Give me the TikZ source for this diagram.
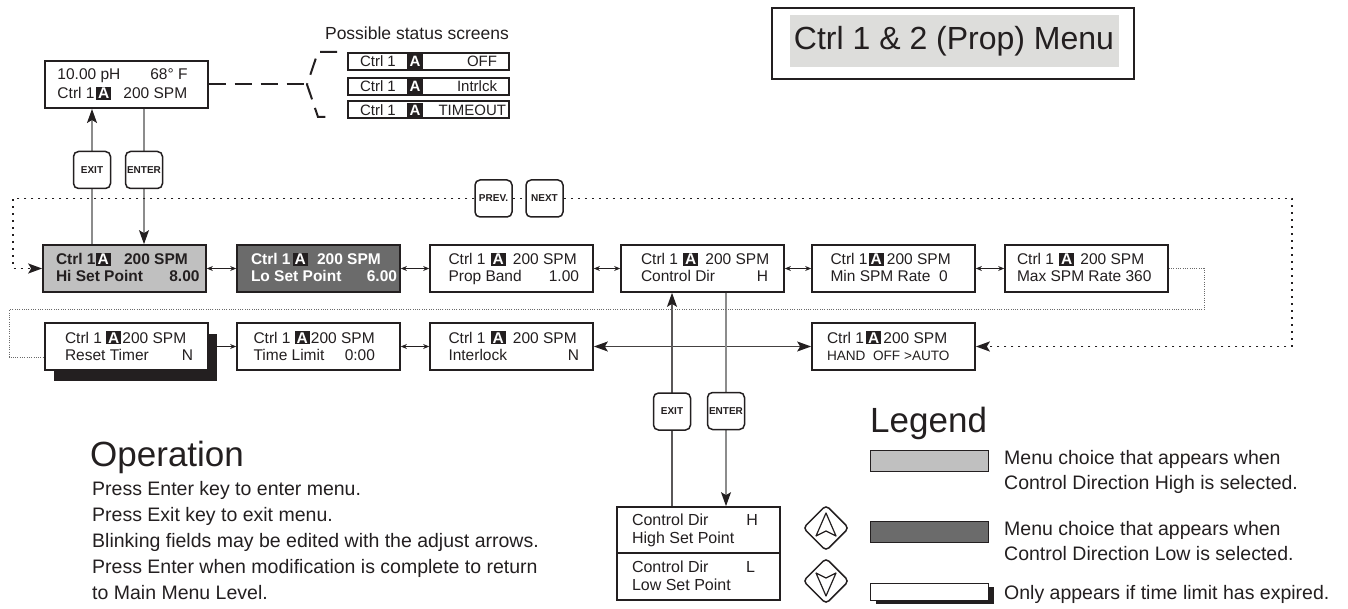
\documentclass[tikz,border=0pt]{standalone}
\usepackage{fontspec}
\setmainfont{Liberation Sans}
\usetikzlibrary{arrows.meta,calc,shapes.geometric,shadows}
\definecolor{ink}{HTML}{231F20}
\definecolor{lgray}{HTML}{C0C0C0}
\definecolor{dgray}{HTML}{6B6B6B}
\definecolor{tgray}{HTML}{DDDDDB}
\definecolor{wire}{HTML}{8C8C8C}
\definecolor{fine}{HTML}{6A6A6A}
\newcommand\ab{{\setlength{\fboxsep}{1.2pt}\colorbox{ink}{\makebox[13pt]{\color{white}\bfseries A}}}}
\newcommand\abig{{\setlength{\fboxsep}{2pt}\colorbox{ink}{\makebox[12pt]{\color{white}\bfseries A}}}}
\def\btskip{17pt}
\def\btw{163pt}
\newcommand\btstrut{\rule[-3pt]{0pt}{16pt}}
\newcommand\bt[3]{\vbox{\baselineskip=\btskip\relax\lineskiplimit=-50pt\relax
  \hbox to \btw{\kern#1\relax\btstrut#2\hfil}%
  \hbox to \btw{\kern#1\relax\btstrut#3\hfil}}}
\begin{document}
\begin{tikzpicture}[x=1pt,y=-1pt,
 mbox/.style={draw=ink,line width=1.7pt,fill=white,inner sep=0pt,minimum width=163pt,minimum height=47pt,text=ink,font=\fontsize{15.5}{17}\selectfont},
 hibox/.style={mbox,fill=lgray,font=\fontsize{15.5}{17}\selectfont\bfseries},
 lobox/.style={mbox,fill=dgray,text=white,font=\fontsize{15.5}{17}\selectfont\bfseries},
 shbox/.style={mbox,drop shadow={shadow xshift=9pt,shadow yshift=-11pt,opacity=1,fill=ink}},
 subbox/.style={mbox,font=\fontsize{16}{18}\selectfont},
 scr/.style={draw=ink,line width=2pt,fill=white,inner sep=0pt,minimum width=161pt,minimum height=17pt,text=ink,font=\fontsize{15}{15}\selectfont},
 keybtn/.style={draw=ink,line width=1.5pt,fill=white,rounded corners=5pt,minimum width=37pt,minimum height=37pt,inner sep=0pt,text=ink,font=\fontsize{10}{10}\selectfont\bfseries},
 wireline/.style={draw=wire,line width=1.3pt,-{Stealth[length=14pt,width=10pt,inset=3pt,color=ink]}},
 hline/.style={draw=ink!85,line width=1.3pt,{Stealth[length=14pt,width=10pt,inset=3pt,color=ink]}-{Stealth[length=14pt,width=10pt,inset=3pt,color=ink]}},
 dbl/.style={draw=ink,line width=1pt,{Stealth[length=6pt,width=5pt]}-{Stealth[length=6pt,width=5pt]}},
 heavydot/.style={draw=ink,line width=1.8pt,dash pattern=on 1.8pt off 5.2pt},
 dottip/.style={-{Stealth[length=14pt,width=10pt,inset=3pt]}},
 finedot/.style={draw=fine,line width=1pt,dash pattern=on 1pt off 1.3pt},
 dashline/.style={draw=ink,line width=2pt,dash pattern=on 17pt off 9pt},
 bodytext/.style={inner sep=0pt,text=ink,font=\fontsize{19.5}{22}\selectfont,anchor=base west},
 heading/.style={inner sep=0pt,text=ink,font=\fontsize{35}{35}\selectfont,anchor=base west},
 lgrect/.style={draw=ink,line width=1pt,minimum width=118pt,minimum height=21pt,inner sep=0pt},
 adj/.style={draw=ink,line width=1.5pt,diamond,aspect=1,minimum width=46pt,minimum height=46pt,inner sep=0pt,rounded corners=4pt}
]
\useasboundingbox (0,0) rectangle (1348,609);

% title
\node[draw=ink,line width=1.5pt,minimum width=362pt,minimum height=71pt,inner sep=0pt] (ttl) at (953,43.5) {};
\node[fill=tgray,minimum width=329pt,minimum height=52pt,inner sep=0pt,font=\fontsize{32}{32}\selectfont,text=ink] (ttltxt) at (954,41) {Ctrl 1 \& 2 (Prop) Menu};

% status display
\node[mbox,line width=2pt,minimum width=162pt] (st) at (126,84.5) {\def\btskip{19pt}\bt{13pt}{10.00 pH\hfill 68° F\kern20pt}{Ctrl 1\hspace{1.5pt}\ab\hspace{12pt}200 SPM}};
\node[inner sep=0pt,text=ink,font=\fontsize{17.5}{18}\selectfont] (sslab) at (417,33) {Possible status screens};
\node[scr] (ss1) at (428.5,61.5) {\hbox to 161pt{\kern12pt\hbox to 47pt{Ctrl 1\hfil}\abig\hfil OFF\kern12pt}};
\node[scr] (ss2) at (428.5,86.5) {\hbox to 161pt{\kern12pt\hbox to 47pt{Ctrl 1\hfil}\abig\hfil Intrlck\kern12pt}};
\node[scr] (ss3) at (428.5,110) {\hbox to 161pt{\kern12pt\hbox to 47pt{Ctrl 1\hfil}\abig\hfil TIMEOUT\kern3pt}};
\coordinate (bm) at (307,84.5);
\coordinate (bt1) at (337,52);
\coordinate (bt2) at (318,52);
\coordinate (bb2) at (318,117);
\coordinate (bb1) at (334,117);
\draw[dashline] (st.east) -- (bm);
\draw[dashline] (bt1) -- (bt2) -- (bm) -- (bb2) -- (bb1);

% row 1
\node[hibox] (b1) at (124.5,268.5) {\bt{13pt}{Ctrl 1\ab\hspace{13pt}200 SPM}{Hi Set Point\hfill 8.00\kern6.5pt}};
\node[lobox] (b2) at (318.5,268.5) {\bt{14pt}{Ctrl 1\hspace{2pt}\ab\hspace{9pt}200 SPM}{Lo Set Point\hfill 6.00\kern3pt}};
\node[mbox] (b3) at (511.5,268.5) {\bt{18.5pt}{Ctrl 1\hspace{5pt}\ab\hspace{7pt}200 SPM}{Prop Band\hfill 1.00\kern14pt}};
\node[mbox] (b4) at (702.5,268.5) {\bt{20pt}{Ctrl 1\hspace{5pt}\ab\hspace{7pt}200 SPM}{Control Dir\hfill H\kern16pt}};
\node[mbox] (b5) at (893.5,268.5) {\bt{18.5pt}{Ctrl 1\hspace{1pt}\ab\hspace{3pt}200 SPM}{Min SPM Rate\ \ 0}};
\node[mbox] (b6) at (1086.5,268.5) {\bt{12pt}{Ctrl 1\hspace{5pt}\ab\hspace{6pt}200 SPM}{Max SPM Rate 360}};
\draw[dbl] (b1.east) -- (b2.west);
\draw[dbl] (b2.east) -- (b3.west);
\draw[dbl] (b3.east) -- (b4.west);
\draw[dbl] (b4.east) -- (b5.west);
\draw[dbl] (b5.east) -- (b6.west);

% row 2
\node[shbox] (r1) at (126.5,346.5) {\bt{20pt}{Ctrl 1\hspace{4pt}\ab\hspace{1pt}200 SPM}{Reset Timer\hfill N\kern15pt}};
\node[mbox] (r2) at (318.5,346.5) {\bt{16.5pt}{Ctrl 1\hspace{4pt}\ab\hspace{1pt}200 SPM}{Time Limit\hfill 0:00\kern25pt}};
\node[mbox] (r3) at (511.5,346.5) {\bt{18.5pt}{Ctrl 1\hspace{5pt}\ab\hspace{7pt}200 SPM}{Interlock\hfill N\kern14pt}};
\node[mbox] (r4) at (893.5,346.5) {\bt{15pt}{Ctrl 1\hspace{2pt}\ab\hspace{2pt}200 SPM}{{\fontsize{13.6}{14}\selectfont HAND\ \ OFF >AUTO}}};
\draw[dbl] (r1.east) -- (r2.west);
\draw[dbl] (r2.east) -- (r3.west);
\draw[hline] (r3.east) -- (r4.west);

% control dir sub menu
\node[subbox,minimum height=46pt] (sub1) at (698.5,530) {\def\btskip{18pt}\bt{15pt}{Control Dir\hfill H\kern22pt}{High Set Point}};
\node[subbox] (sub2) at (698.5,576.5) {\def\btskip{18pt}\bt{15pt}{Control Dir\hfill L\kern25pt}{Low Set Point}};

% enter / exit wires
\coordinate (xa) at (92,0);
\coordinate (xb) at (144,0);
\coordinate (xc) at (672,0);
\coordinate (xd) at (726,0);
\draw[wireline] (b1.north -| xa) -- (st.south -| xa);
\draw[wireline] (st.south -| xb) -- (b1.north -| xb);
\draw[wireline,draw=ink!75] (sub1.north -| xc) -- (b4.south -| xc);
\draw[wireline] (b4.south -| xd) -- (sub1.north -| xd);

% keys
\node[keybtn] (ext) at (92,170) {EXIT};
\node[keybtn] (ent) at (144,170) {ENTER};
\node[keybtn] (prv) at (493.5,198.5) {PREV.};
\node[keybtn] (nxt) at (544.5,198.5) {NEXT};
\node[keybtn] (exb) at (672,411.5) {EXIT};
\node[keybtn] (enb) at (726,411) {ENTER};

% dotted loops
\coordinate (hd1) at (13,198.5);
\coordinate (hd2) at (1292,198.5);
\draw[heavydot,dottip] (prv.west) -- (hd1) |- (b1.west);
\draw[heavydot] (prv.east) -- (nxt.west);
\draw[heavydot,dottip] (nxt.east) -- (hd2) |- (r4.east);
\coordinate (td1) at (1204,268.5);
\coordinate (td2) at (1204,310);
\coordinate (td3) at (9,310);
\coordinate (td4) at (9,357);
\draw[finedot] (b6.east) -- (td1) -- (td2) -- (td3) -- (td4) -- (td4 -| r1.west);

% operation
\node[heading] (ophead) at (90,466) {Operation};
\node[bodytext] (op1) at (92,495) {Press Enter key to enter menu.};
\node[bodytext] (op2) at (92,521) {Press Exit key to exit menu.};
\node[bodytext] (op3) at (92,547) {Blinking fields may be edited with the adjust arrows.};
\node[bodytext] (op4) at (92,573) {Press Enter when modification is complete to return};
\node[bodytext] (op5) at (92,599) {to Main Menu Level.};

% adjust arrows
\node[adj] (up) at (826,528) {};
\node[adj] (dn) at (826,581) {};
\draw[ink,line width=1.2pt,line join=round] ($(up)+(0,-15)$) -- ($(up)+(-10,8)$) -- ($(up)+(0,3)$) -- ($(up)+(10,8)$) -- cycle;
\draw[ink,line width=1.2pt,line join=round] ($(dn)+(0,15)$) -- ($(dn)+(-10,-8)$) -- ($(dn)+(0,-3)$) -- ($(dn)+(10,-8)$) -- cycle;

% legend
\node[heading] (lghead) at (870,432) {Legend};
\node[lgrect,fill=lgray] (lg1) at (929,460.5) {};
\node[lgrect,fill=dgray] (lg2) at (929,531.5) {};
\node[lgrect,fill=white,minimum height=17pt,drop shadow={shadow xshift=6pt,shadow yshift=-4pt,opacity=1,fill=ink}] (lg3) at (929,591.5) {};
\node[bodytext] (lt1) at (1004,464) {Menu choice that appears when};
\node[bodytext] (lt2) at (1004,489) {Control Direction High is selected.};
\node[bodytext] (lt3) at (1004,535) {Menu choice that appears when};
\node[bodytext] (lt4) at (1004,560) {Control Direction Low is selected.};
\node[bodytext] (lt5) at (1004,599) {Only appears if time limit has expired.};
\end{tikzpicture}
\end{document}
